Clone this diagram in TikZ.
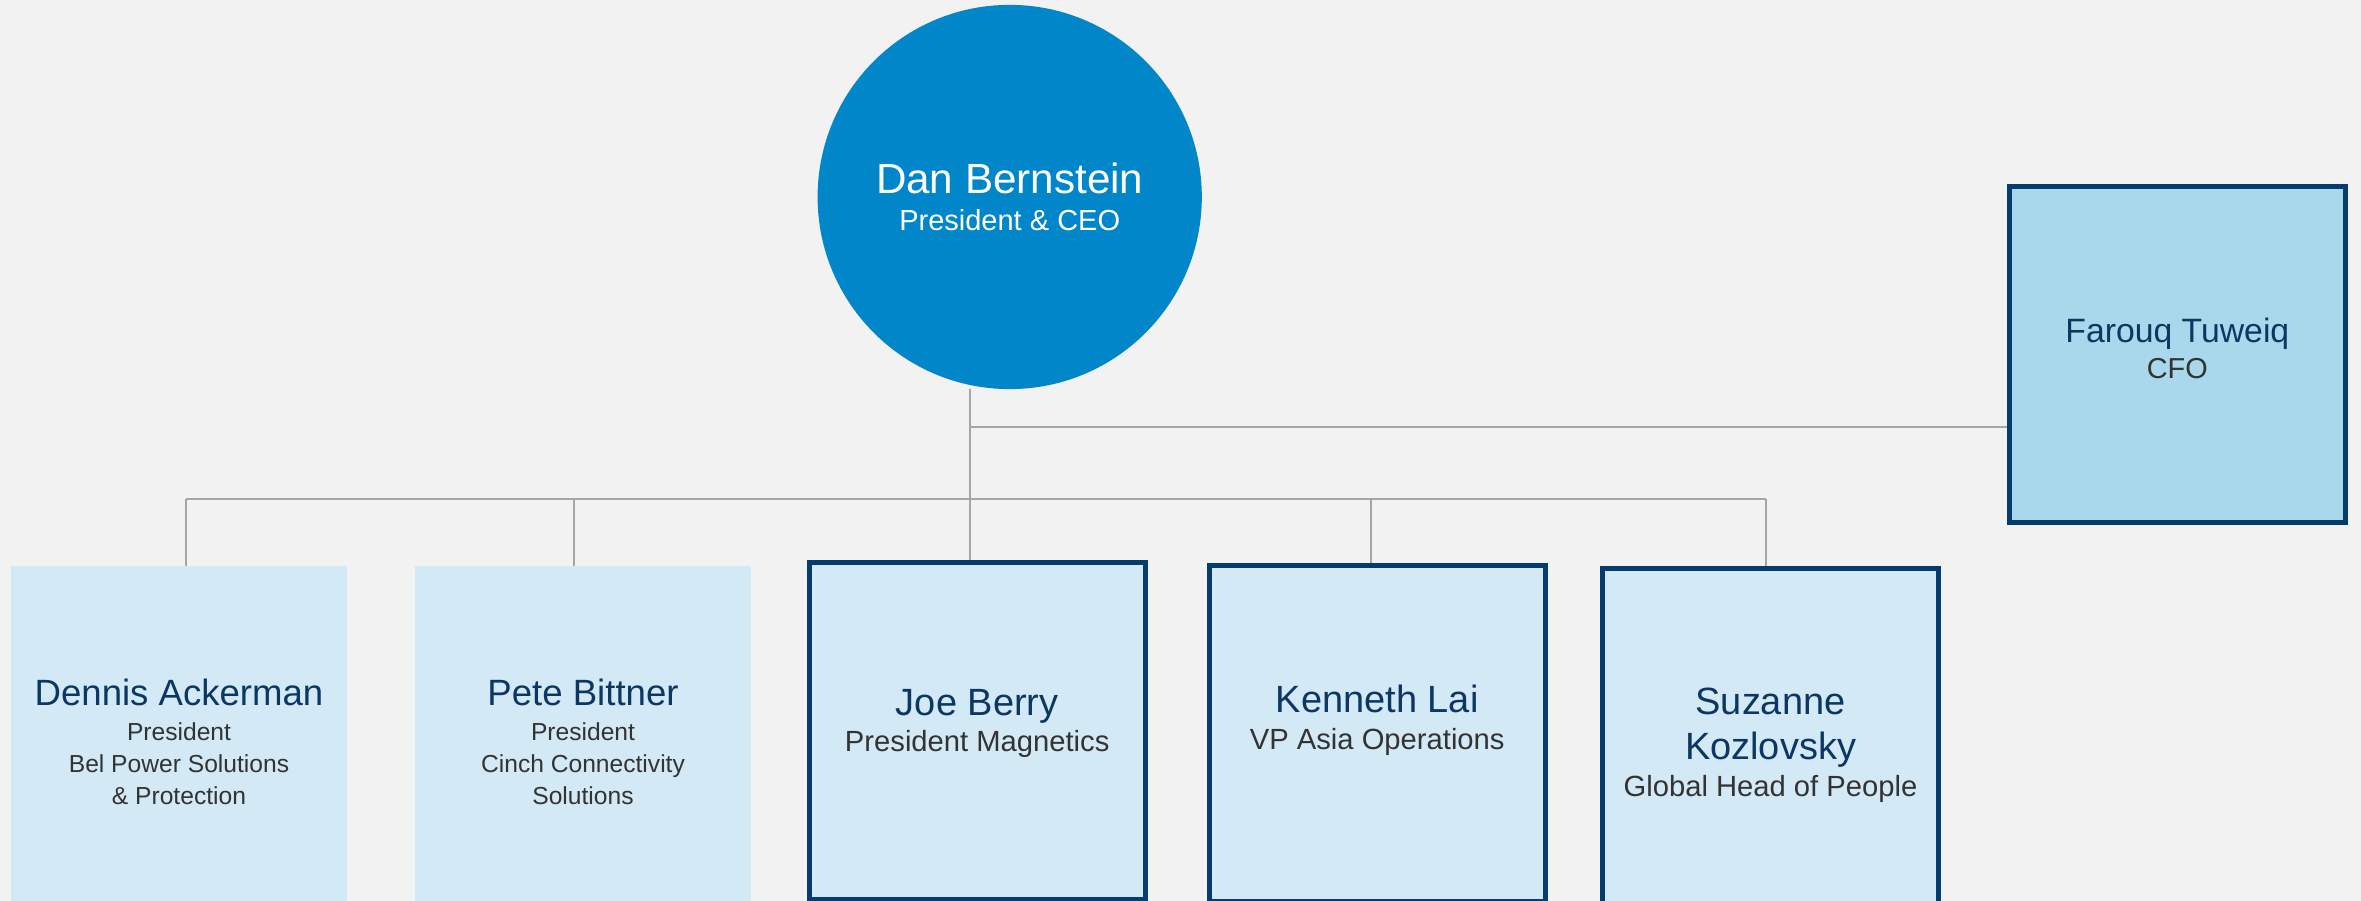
\documentclass[tikz,border=0pt]{standalone}
\usepackage{fontspec}
\setmainfont{Liberation Sans}
\definecolor{bgcol}{HTML}{F2F2F2}
\definecolor{ceoblue}{HTML}{0286CA}
\definecolor{boxfill}{HTML}{D3E9F5}
\definecolor{cfofill}{HTML}{A9D7EB}
\definecolor{navy}{HTML}{063B6E}
\definecolor{namecol}{HTML}{0C3763}
\definecolor{titlecol}{HTML}{333333}
\definecolor{linkcol}{HTML}{A6A6A6}
% name line in a box: size, text
\newcommand{\pname}[2]{{\fontsize{#1}{#1}\selectfont\color{namecol}#2}}

\begin{document}
\begin{tikzpicture}[x=0.01cm,y=-0.01cm,
  link/.style={linkcol,line width=0.6pt},
  plainbox/.style={rectangle,fill=boxfill,minimum size=3.36cm,inner sep=0pt,outer sep=0pt},
  linebox/.style={rectangle,fill=boxfill,draw=navy,line width=1.4pt,minimum size=3.36cm,inner sep=0pt},
  boxtext/.style={inner sep=0pt,align=center,text=titlecol,font=\fontsize{8.3}{10.4}\selectfont},
  smalltext/.style={boxtext,font=\fontsize{7}{9.1}\selectfont}]
 \useasboundingbox (0,0) rectangle (2361,901);
 \fill[bgcol] (0,0) rectangle (2361,901);
 \clip (0,0) rectangle (2361,901);

 % top
 \node[circle,fill=ceoblue,minimum size=3.84cm,inner sep=0pt,outer sep=0pt,text=white,
   align=center,font=\fontsize{8.25}{10.7}\selectfont] (dan) at (1009.7,197)
   {{\fontsize{12}{12}\selectfont Dan Bernstein}\\President \& CEO};
 \node[linebox,fill=cfofill] (cfo) at (2177.3,354.5) {};
 \node[boxtext,font=\fontsize{8.2}{10.4}\selectfont] (cfo-t) at ([yshift=0.06cm]cfo)
   {\pname{9.6}{Farouq Tuweiq}\\CFO};

 % second row
 \node[plainbox] (dennis) at (179,734) {};
 \node[plainbox] (pete) at (583,734) {};
 \node[linebox] (joe) at (977.2,731) {};
 \node[linebox] (kenneth) at (1377.2,733.3) {};
 \node[linebox] (suzanne) at (1770.5,736.2) {};

 \node[smalltext] (dennis-t) at ([yshift=-0.075cm]dennis)
   {\pname{10.4}{Dennis Ackerman}\\[0.9pt]President\\Bel Power Solutions\\\& Protection};
 \node[smalltext] (pete-t) at ([yshift=-0.075cm]pete)
   {\pname{10.4}{Pete Bittner}\\[0.9pt]President\\Cinch Connectivity\\Solutions};
 \node[boxtext] (joe-t) at ([yshift=0.075cm]joe)
   {\pname{10.8}{Joe Berry}\\President Magnetics};
 \node[boxtext] (kenneth-t) at ([yshift=0.13cm]kenneth)
   {\pname{10.8}{Kenneth Lai}\\VP Asia Operations};
 \node[boxtext] (suzanne-t) at ([yshift=-0.09cm]suzanne)
   {\pname{10.8}{Suzanne}\\[2.4pt]\pname{10.8}{Kozlovsky}\\Global Head of People};

 % connectors
 \coordinate (bar) at (0,499);
 \coordinate (trunk) at ([xshift=-0.07cm]joe.north);
 \coordinate (cfoin) at ([yshift=-7.25mm]cfo.west);
 \draw[link] (dan.south -| trunk) -- (trunk);
 \draw[link] (cfoin -| trunk) -- (cfoin);
 \draw[link] (bar -| dennis.north) ++(0.07cm,0) -- ([xshift=-0.045cm]bar -| suzanne.north);
 \foreach \b/\dx in {dennis/0.07,pete/-0.09,kenneth/-0.065,suzanne/-0.045}
   \draw[link] ([xshift=\dx cm]bar -| \b.north) -- ([xshift=\dx cm]\b.north);
\end{tikzpicture}
\end{document}
